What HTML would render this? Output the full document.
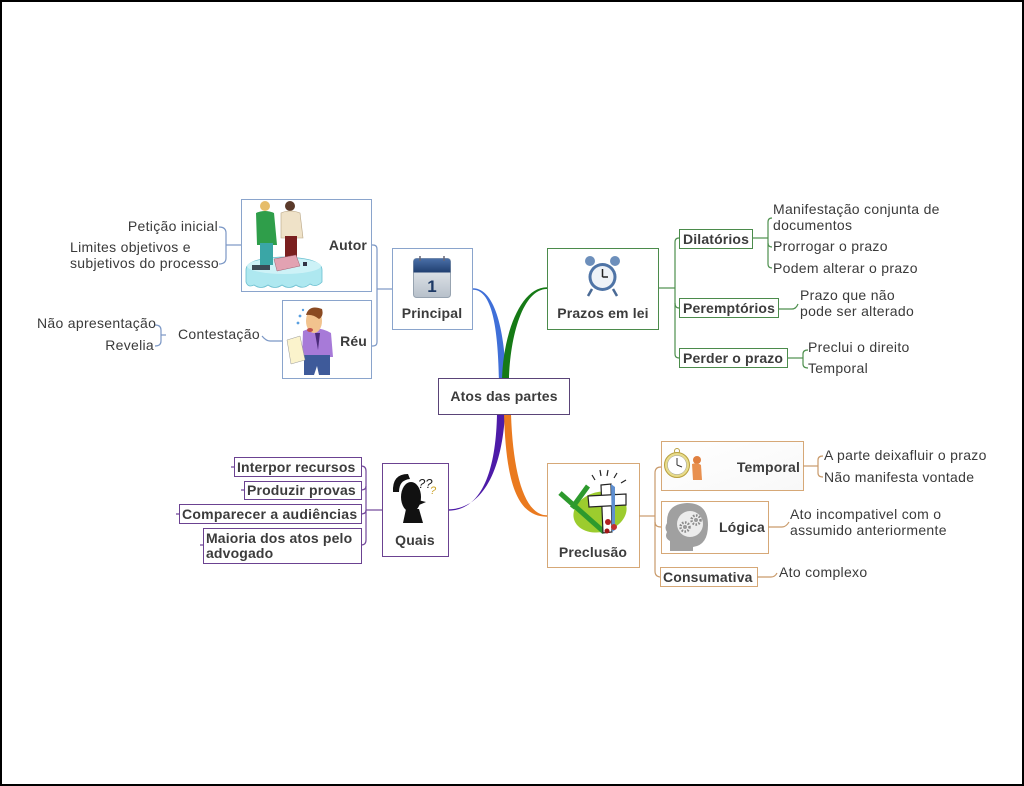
<!DOCTYPE html>
<html><head><meta charset="utf-8"><style>
html,body{margin:0;padding:0;background:#fff;}
svg{display:block;}
text{font-family:"Liberation Sans",Arial,sans-serif;font-size:14px;fill:#3a3a3a;letter-spacing:0.3px;}
.b{font-weight:bold;fill:#3c3c3c;letter-spacing:0.15px;}
.bl{fill:none;stroke:#7b97c5;stroke-width:1.2;}
.gr{fill:none;stroke:#4d8f4d;stroke-width:1.2;}
.pu{fill:none;stroke:#71479a;stroke-width:1.2;}
.ta{fill:none;stroke:#c99a6a;stroke-width:1.2;}
</style></head><body>
<svg width="1024" height="786" viewBox="0 0 1024 786" xmlns="http://www.w3.org/2000/svg">
<defs>
<linearGradient id="calg" x1="0" y1="0" x2="0" y2="1"><stop offset="0" stop-color="#eef1f4"/><stop offset="1" stop-color="#b7c0ca"/></linearGradient>
<linearGradient id="calh" x1="0" y1="0" x2="0" y2="1"><stop offset="0" stop-color="#4a6fa8"/><stop offset="1" stop-color="#203f70"/></linearGradient>
<linearGradient id="tg" x1="0" y1="0" x2="1" y2="1"><stop offset="0" stop-color="#ffffff"/><stop offset="1" stop-color="#f8f8f8"/></linearGradient>
</defs>
<rect x="0" y="0" width="1024" height="786" fill="#fff"/>
<rect x="1" y="1" width="1022" height="784" fill="none" stroke="#000" stroke-width="2"/>

<!-- main branches -->
<path d="M473 288.3 C496 288.3 505 335 506 380 L499 380 C498 336 494 289.7 473 289.7Z" fill="#3f6fd8"/>
<path d="M547 287.3 C520 287.3 503 335 502 380 L509 380 C510 336 523 289 547 289Z" fill="#167a16"/>
<path d="M497 414 C496 470 482 510.7 448 510.7 L448 509.3 C484 509.3 502 468 505 414Z" fill="#4d1ba8"/>
<path d="M504 414 C506 480 516 516.7 547 516.7 L547 515.3 C525 515.3 513 475 511 414Z" fill="#ea7a1f"/>

<!-- center -->
<rect x="438.5" y="378.5" width="131" height="36" fill="#fff" stroke="#5a4478"/>
<text class="b" x="504" y="401" text-anchor="middle">Atos das partes</text>

<!-- ===== Principal group (blue) ===== -->
<rect x="392.5" y="248.5" width="80" height="81" fill="#fff" stroke="#8aa4cc"/>
<rect x="413.5" y="258.5" width="37" height="39" rx="3" fill="url(#calg)" stroke="#97a3b0"/>
<path d="M413.5 261.5 a3 3 0 0 1 3 -3 h31 a3 3 0 0 1 3 3 v11 h-37z" fill="url(#calh)"/>
<line x1="420" y1="256" x2="420" y2="261" stroke="#667" stroke-width="1.5"/>
<line x1="444" y1="256" x2="444" y2="261" stroke="#667" stroke-width="1.5"/>
<text x="432" y="292" text-anchor="middle" style="font-weight:bold;font-size:17px;fill:#1e3a66;letter-spacing:0">1</text>
<text class="b" x="432" y="318" text-anchor="middle">Principal</text>

<path class="bl" d="M392 289 H377"/>
<path class="bl" d="M368 245 H373 Q377 245 377 249 V342 Q377 346 373 346 H368"/>

<!-- Autor -->
<rect x="241.5" y="199.5" width="130" height="92" fill="#fff" stroke="#8aa4cc"/>
<g>
<path d="M246 270 Q246 258 284 257 Q322 258 322 270 L322 282 Q316 288 310 284 Q303 290 296 285 Q289 290 282 285 Q275 290 268 285 Q261 290 254 285 Q248 288 246 282Z" fill="#aee8f0" stroke="#6cbfd0" stroke-width="0.8"/>
<ellipse cx="284" cy="266" rx="37" ry="8" fill="#cdf2f7"/>
<circle cx="265" cy="206" r="5" fill="#e6bd6a"/>
<path d="M256 213 Q265 209 274 213 L277 245 L257 245Z" fill="#2f9e4a"/>
<rect x="260" y="243" width="13" height="22" fill="#3aa6a6"/>
<circle cx="290" cy="206" r="5" fill="#5a3a2a"/>
<path d="M281 213 Q290 209 300 213 L303 238 L281 238Z" fill="#efe2c8" stroke="#b8a584" stroke-width="0.6"/>
<rect x="285" y="236" width="12" height="28" fill="#7a1f1f"/>
<path d="M274 259 L296 255 L300 266 L277 271Z" fill="#e2a2b2" stroke="#a06070" stroke-width="0.5"/>
<rect x="252" y="265" width="18" height="5" fill="#3b4a55"/>
<rect x="303" y="262" width="4" height="4" fill="#334"/>
</g>
<text class="b" x="367" y="250" text-anchor="end">Autor</text>

<path class="bl" d="M219 227 Q226 227 226 233 V258 Q226 264 219 264"/>
<path class="bl" d="M226 245 H241"/>
<text x="218" y="231" text-anchor="end">Petição inicial</text>
<text x="70" y="252">Limites objetivos e</text>
<text x="70" y="268">subjetivos do processo</text>

<!-- Réu -->
<rect x="282.5" y="300.5" width="89" height="78" fill="#fff" stroke="#8aa4cc"/>
<g>
<path d="M303 331 Q317 325 331 333 L333 357 L302 357Z" fill="#a77ad8"/>
<path d="M315 333 L318 350 L320 333Z" fill="#4a2a7a"/>
<path d="M304 355 L330 355 L330 375 L319 375 L317 366 L314 375 L304 375Z" fill="#3e5a9a"/>
<path d="M287 340 L300 336 L305 360 L291 364Z" fill="#fbf3cc" stroke="#999" stroke-width="0.5"/>
<ellipse cx="314" cy="321" rx="8" ry="12" fill="#f2c38e"/>
<path d="M306 315 Q309 304 322 309 Q324 316 319 319 Q313 314 306 315Z" fill="#8a4a22"/>
<ellipse cx="310" cy="330" rx="3" ry="2" fill="#c0504a"/>
<circle cx="300" cy="316" r="1.4" fill="#5aa0e0"/>
<circle cx="298" cy="323" r="1.4" fill="#5aa0e0"/>
<circle cx="303" cy="310" r="1.2" fill="#5aa0e0"/>
</g>
<text class="b" x="367" y="346" text-anchor="end">Réu</text>

<path class="bl" d="M262 336 Q266 341 270 341 H282"/>
<text x="178" y="339">Contestação</text>
<path class="bl" d="M155 325 Q161 325 161 330 V341 Q161 346 155 346"/>
<path class="bl" d="M161 335 H166"/>
<text x="37" y="328">Não apresentação</text>
<text x="154" y="350" text-anchor="end">Revelia</text>

<!-- ===== Prazos group (green) ===== -->
<rect x="547.5" y="248.5" width="111" height="81" fill="#fff" stroke="#4b8b4b"/>
<g>
<circle cx="590" cy="261" r="5" fill="#6d8fbb"/>
<circle cx="615" cy="261" r="5" fill="#6d8fbb"/>
<line x1="592" y1="289" x2="588" y2="296" stroke="#4a6a95" stroke-width="2.5"/>
<line x1="613" y1="289" x2="617" y2="296" stroke="#4a6a95" stroke-width="2.5"/>
<circle cx="602.5" cy="277" r="14" fill="#4f74a6"/>
<circle cx="602.5" cy="277" r="11" fill="#eef2f7"/>
<line x1="602.5" y1="277" x2="602.5" y2="269" stroke="#222" stroke-width="1.5"/>
<line x1="602.5" y1="277" x2="608" y2="277" stroke="#222" stroke-width="1.5"/>
</g>
<text class="b" x="603" y="318" text-anchor="middle">Prazos em lei</text>

<path class="gr" d="M659 288 H675"/>
<path class="gr" d="M679 238 Q675 238 675 242 V354 Q675 358 679 358"/>
<path class="gr" d="M675 303 Q675 308 679 308"/>

<rect x="679.5" y="229.5" width="73" height="19" fill="#fff" stroke="#4b8b4b"/>
<text class="b" x="683" y="244">Dilatórios</text>
<rect x="679.5" y="298.5" width="99" height="19" fill="#fff" stroke="#4b8b4b"/>
<text class="b" x="683" y="313">Peremptórios</text>
<rect x="679.5" y="348.5" width="108" height="19" fill="#fff" stroke="#4b8b4b"/>
<text class="b" x="683" y="363">Perder o prazo</text>

<path class="gr" d="M752 238 H768"/>
<path class="gr" d="M772 218 Q768 218 768 222 V264 Q768 268 772 268"/>
<path class="gr" d="M768 243 Q768 247 772 247"/>
<text x="773" y="214">Manifestação conjunta de</text>
<text x="773" y="230">documentos</text>
<text x="773" y="251">Prorrogar o prazo</text>
<text x="773" y="273">Podem alterar o prazo</text>

<path class="gr" d="M778 309 H792 Q796 309 798 304"/>
<text x="800" y="300">Prazo que não</text>
<text x="800" y="316">pode ser alterado</text>

<path class="gr" d="M787 358 H803"/>
<path class="gr" d="M808 350 Q803 350 803 354 V364 Q803 368 808 368"/>
<text x="808" y="352">Preclui o direito</text>
<text x="808" y="373">Temporal</text>

<!-- ===== Quais group (purple) ===== -->
<rect x="382.5" y="463.5" width="66" height="93" fill="#fff" stroke="#6b4291"/>
<g>
<path d="M393 492 Q392 474 408 474 L410 479 Q399 480 399 492Z" fill="#111"/>
<ellipse cx="411" cy="497" rx="10" ry="15" fill="#111"/>
<path d="M406 509 L419 509 L423 523 L403 523Z" fill="#111"/>
<path d="M418 500 L426 502 L419 505Z" fill="#111"/>
<text x="418" y="488" style="font-size:13px;font-style:italic;fill:#222;letter-spacing:0">??</text>
<text x="430" y="494" style="font-size:11px;font-style:italic;fill:#c9a020;letter-spacing:0">?</text>
</g>
<text class="b" x="415" y="545" text-anchor="middle">Quais</text>

<path class="pu" d="M382 510 H366"/>
<path class="pu" d="M361 466 Q366 466 366 471 V540 Q366 545 361 545"/>
<path class="pu" d="M366 486 Q366 490 361 490"/>
<path class="pu" d="M366 510 Q366 514 361 514"/>

<rect x="234.5" y="457.5" width="127" height="19" fill="#fff" stroke="#6b4291"/>
<text class="b" x="237" y="472">Interpor recursos</text>
<rect x="244.5" y="481.5" width="117" height="18" fill="#fff" stroke="#6b4291"/>
<text class="b" x="247" y="495">Produzir provas</text>
<rect x="179.5" y="504.5" width="182" height="19" fill="#fff" stroke="#6b4291"/>
<text class="b" x="182" y="519" style="letter-spacing:0.25px">Comparecer a audiências</text>
<rect x="203.5" y="528.5" width="158" height="35" fill="#fff" stroke="#6b4291"/>
<text class="b" x="206" y="543">Maioria dos atos pelo</text>
<text class="b" x="206" y="558">advogado</text>
<path class="pu" d="M234 467 H231 M244 490 H241 M179 514 H176 M203 545 H200"/>

<!-- ===== Preclusão group (tan) ===== -->
<rect x="547.5" y="463.5" width="92" height="104" fill="#fff" stroke="#d6a877"/>
<g>
<ellipse cx="600" cy="512" rx="27" ry="20" fill="#9ccc2e" transform="rotate(-15 600 512)"/>
<path d="M560 493 L604 532" stroke="#2d9a2d" stroke-width="5"/>
<path d="M572 508 L588 486" stroke="#2d9a2d" stroke-width="5"/>
<g stroke="#222" stroke-width="1.2">
<line x1="592" y1="475" x2="595" y2="480"/>
<line x1="600" y1="470" x2="601" y2="476"/>
<line x1="608" y1="470" x2="607" y2="476"/>
<line x1="617" y1="473" x2="614" y2="478"/>
<line x1="626" y1="480" x2="621" y2="483"/>
</g>
<path d="M601 485 L611 484 L612 532 L603 533Z" fill="#fff" stroke="#222" stroke-width="1.2"/>
<path d="M588 496 L626 494 L626 505 L589 507Z" fill="#fff" stroke="#222" stroke-width="1.2"/>
<path d="M611 484 L615 487 L615 530 L612 532Z" fill="#5f8fd0"/>
<circle cx="608" cy="522" r="3" fill="#b02020"/>
<circle cx="614" cy="527" r="3" fill="#c03030"/>
<circle cx="607" cy="531" r="2.5" fill="#a01818"/>
</g>
<text class="b" x="593" y="557" text-anchor="middle">Preclusão</text>

<path class="ta" d="M639 516 H655"/>
<path class="ta" d="M661 467 Q655 467 655 473 V571 Q655 577 661 577"/>
<path class="ta" d="M655 522 Q655 527 661 527"/>

<rect x="661.5" y="441.5" width="142" height="49" fill="url(#tg)" stroke="#d6a877"/>
<g>
<circle cx="677" cy="451" r="2.5" fill="none" stroke="#b8a040"/>
<circle cx="677" cy="465" r="12.5" fill="#e8dc8a" stroke="#b8a040"/>
<circle cx="677" cy="465" r="9.5" fill="#fff" stroke="#999" stroke-width="0.5"/>
<line x1="677" y1="465" x2="677" y2="458" stroke="#333" stroke-width="1"/>
<line x1="677" y1="465" x2="682" y2="467" stroke="#333" stroke-width="1"/>
<circle cx="697" cy="460" r="4" fill="#e08040"/>
<path d="M692 464 Q697 462 701 465 L702 480 L693 480Z" fill="#e89050"/>
</g>
<text class="b" x="800" y="472" text-anchor="end">Temporal</text>

<rect x="661.5" y="501.5" width="107" height="52" fill="#fff" stroke="#d6a877"/>
<g>
<path d="M670 551 L670 541 Q664 538 667 532 Q664 528 667 523 Q666 504 687 503 Q708 503 708 525 Q708 545 693 547 L693 551Z" fill="#a0a0a0"/>
<circle cx="690" cy="524" r="13" fill="#ececec"/>
<circle cx="685" cy="527" r="4.5" fill="none" stroke="#8a8a8a" stroke-width="2.5" stroke-dasharray="1.6 1.4"/>
<circle cx="685" cy="527" r="2" fill="#9a9a9a"/>
<circle cx="696" cy="520" r="4.5" fill="none" stroke="#8a8a8a" stroke-width="2.5" stroke-dasharray="1.6 1.4"/>
<circle cx="696" cy="520" r="2" fill="#9a9a9a"/>
</g>
<text class="b" x="765" y="532" text-anchor="end">Lógica</text>

<rect x="660.5" y="567.5" width="97" height="19" fill="#fff" stroke="#d6a877"/>
<text class="b" x="663" y="582">Consumativa</text>

<path class="ta" d="M803 466 H818"/>
<path class="ta" d="M823 456 Q818 456 818 460 V473 Q818 477 823 477"/>
<text x="824" y="460">A parte deixafluir o prazo</text>
<text x="824" y="482">Não manifesta vontade</text>

<path class="ta" d="M768 527 H782 Q786 527 789 522"/>
<text x="790" y="519">Ato incompativel com o</text>
<text x="790" y="535">assumido anteriormente</text>

<path class="ta" d="M757 577 H771 Q775 577 777 573"/>
<text x="779" y="577">Ato complexo</text>
</svg>
</body></html>
